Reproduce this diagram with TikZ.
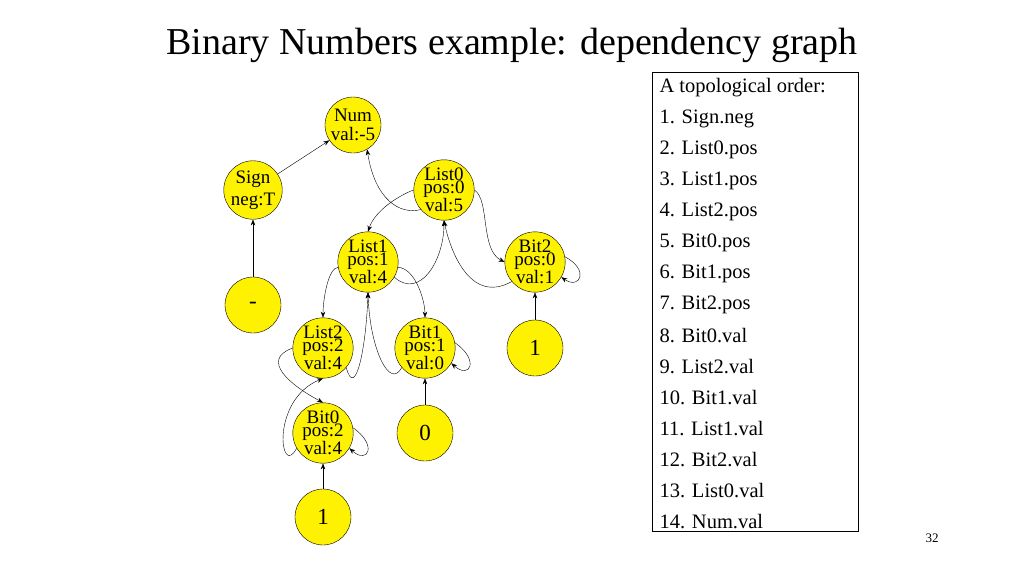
\documentclass[tikz,border=0pt]{standalone}
\usepackage{fontspec}
\setmainfont{Liberation Serif}
\usetikzlibrary{arrows.meta}
\begin{document}
\begin{tikzpicture}[x=1pt,y=-1pt,
  nd/.style={circle,draw,fill=yellow,minimum size=56pt,inner sep=0pt,align=center,font=\fontsize{19}{13}\selectfont},
  big/.style={nd,font=\fontsize{23}{24}\selectfont},
  e/.style={-{Stealth[length=6pt,width=4.5pt]},thin},
  lst/.style={anchor=west,font=\fontsize{20.5}{22}\selectfont}]
\useasboundingbox (0,0) rectangle (1024,576);
\node (title) at (512,45) {\fontsize{38}{42}\selectfont Binary Numbers example: dependency graph};
\node (num) at (353,125) [nd] {Num\\[4pt]val:-5};
\node (sign) at (253,190) [nd] {Sign\\[4pt]neg:T};
\node (l0) at (444,190) [nd] {List0\\pos:0\\val:5};
\node (l1) at (368,262) [nd] {List1\\pos:1\\val:4};
\node (b2) at (535,262) [nd] {Bit2\\pos:0\\val:1};
\node (mi) at (253,305) [big] {-};
\node (l2) at (323,348) [nd] {List2\\pos:2\\val:4};
\node (b1) at (425,348) [nd] {Bit1\\pos:1\\val:0};
\node (oa) at (535,348) [big] {1};
\node (b0) at (323,433) [nd] {Bit0\\pos:2\\val:4};
\node (ze) at (425,433) [big] {0};
\node (ob) at (323,517) [big] {1};
\draw[e] (sign) -- (num);
\draw[e] (mi) -- (sign);
\draw[e] (l0.220) .. controls (400,215) and (375,200) .. (num.300);
\draw[e] (l0.180) .. controls (400,195) and (375,210) .. (l1.north);
\draw[e] (l0.0) .. controls (490,200) and (480,250) .. (b2.180);
\draw[e] (l1.330) .. controls (420,300) and (444,260) .. (l0.south);
\draw[e] (b2.220) .. controls (470,305) and (450,250) .. (l0.south);
\draw[e] (b2.10) .. controls (590,270) and (580,290) .. (b2.330);
\draw[e] (oa) -- (b2);
\draw[e] (l1.190) .. controls (328,268) and (323,300) .. (l2.north);
\draw[e] (l1.350) .. controls (415,268) and (425,300) .. (b1.north);
\draw[e] (l2.320) .. controls (355,400) and (366,350) .. (l1.south);
\draw[e] (b1.220) .. controls (390,390) and (370,350) .. (l1.south);
\draw[e] (b1.10) .. controls (480,360) and (470,380) .. (b1.330);
\draw[e] (ze) -- (b1);
\draw[e] (l2.180) .. controls (260,360) and (290,385) .. (b0.north);
\draw[e] (b0.210) .. controls (280,480) and (270,400) .. (l2.south);
\draw[e] (b0.10) .. controls (378,445) and (368,465) .. (b0.330);
\draw[e] (ob) -- (b0);
\node (box) [draw,minimum width=206pt,minimum height=459pt,anchor=north west] at (652,72) {};
\foreach \t [count=\i] in {A topological order:,1. Sign.neg,2. List0.pos,3. List1.pos,4. List2.pos,5. Bit0.pos,6. Bit1.pos,7. Bit2.pos,8. Bit0.val,9. List2.val,10. Bit1.val,11. List1.val,12. Bit2.val,13. List0.val,14. Num.val}
  \node[lst] (t\i) at (656,57+31*\i) {\t};
\node (pg) at (932,538) {\fontsize{13}{15}\selectfont 32};
\end{tikzpicture}
\end{document}
